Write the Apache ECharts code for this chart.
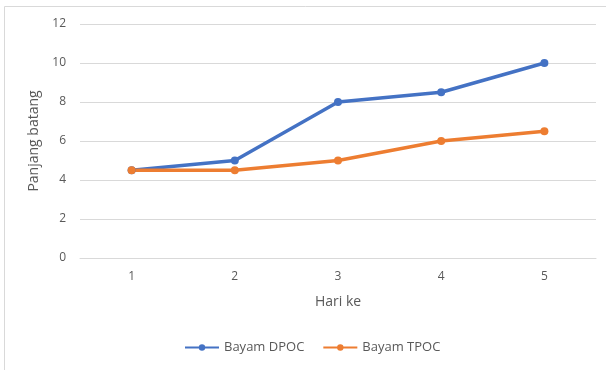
<!DOCTYPE html>
<html>
<head>
<meta charset="utf-8">
<script src="https://cdn.jsdelivr.net/npm/echarts@6/dist/echarts.min.js"></script>
<style>
  html, body { margin: 0; padding: 0; background: #fff; }
  #chart { width: 606px; height: 370px; }
</style>
</head>
<body>
<div id="chart"></div>
<script>
// Day numbers on the x axis
const days = ['1', '2', '3', '4', '5'];
// Stem length per day for each treatment
const bayamDPOC = [4.5, 5, 8, 8.5, 10];
const bayamTPOC = [4.5, 4.5, 5, 6, 6.5];

const textColor = '#595959';
const fontFamily = '"Open Sans", "Noto Sans", sans-serif';

const chart = echarts.init(document.getElementById('chart'));
chart.setOption({
  animation: false,
  textStyle: { fontFamily: fontFamily },
  graphic: [{
    type: 'rect',
    shape: { x: 4.5, y: 6.5, width: 700, height: 500 },
    style: { fill: 'none', stroke: '#d9d9d9', lineWidth: 1 },
    silent: true
  }],
  grid: { left: 80, right: 10, top: 24, bottom: 112 },
  legend: {
    bottom: 11,
    left: 179,
    itemWidth: 34,
    itemHeight: 8,
    itemGap: 18,
    textStyle: { color: textColor, fontSize: 13, fontFamily: fontFamily },
    data: ['Bayam DPOC', 'Bayam TPOC']
  },
  xAxis: {
    type: 'category',
    data: days,
    boundaryGap: true,
    name: 'Hari ke',
    nameLocation: 'middle',
    nameGap: 37,
    nameTextStyle: { color: textColor, fontSize: 14, fontFamily: fontFamily },
    axisLine: { show: true, lineStyle: { color: '#d9d9d9' } },
    axisTick: { show: false },
    axisLabel: { color: textColor, fontSize: 12, margin: 13 }
  },
  yAxis: {
    type: 'value',
    min: 0,
    max: 12,
    interval: 2,
    name: 'Panjang batang',
    nameLocation: 'middle',
    nameGap: 31,
    nameTextStyle: { color: textColor, fontSize: 14, fontFamily: fontFamily },
    axisLine: { show: false },
    axisTick: { show: false },
    axisLabel: { color: textColor, fontSize: 12, margin: 14 },
    splitLine: { lineStyle: { color: '#d9d9d9' } }
  },
  series: [
    {
      name: 'Bayam DPOC',
      type: 'line',
      data: bayamDPOC,
      symbol: 'circle',
      symbolSize: 8,
      lineStyle: { color: '#4472C4', width: 3.5 },
      itemStyle: { color: '#4472C4' }
    },
    {
      name: 'Bayam TPOC',
      type: 'line',
      data: bayamTPOC,
      symbol: 'circle',
      symbolSize: 8,
      lineStyle: { color: '#ED7D31', width: 3.5 },
      itemStyle: { color: '#ED7D31' }
    }
  ]
});
</script>
</body>
</html>
